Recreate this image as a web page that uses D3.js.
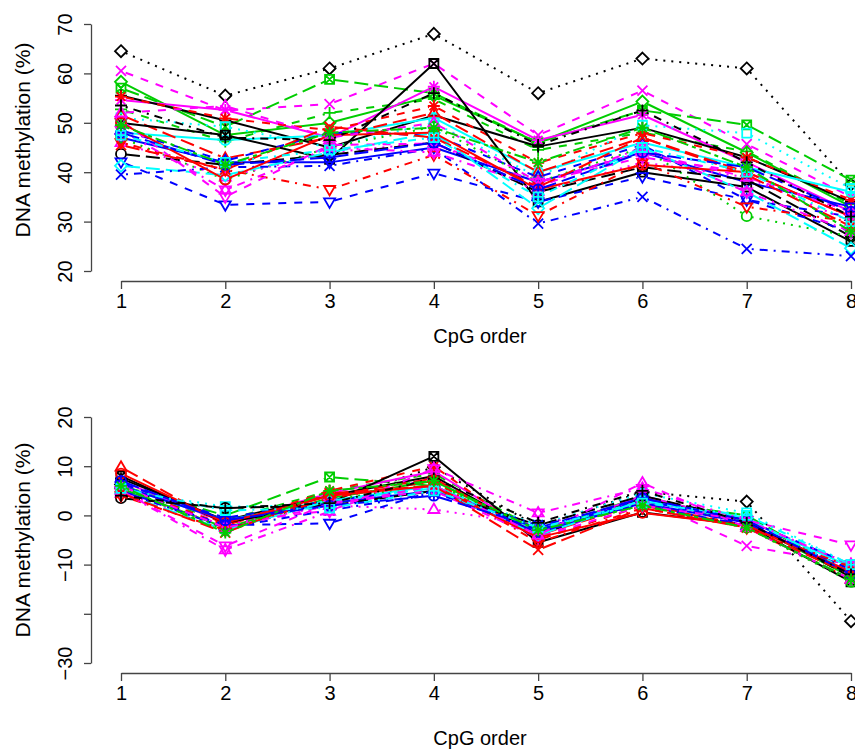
<!DOCTYPE html>
<html lang="en">
<head>
<meta charset="UTF-8">
<title>DNA methylation by CpG order</title>
<script src="https://d3js.org/d3.v7.min.js"></script>
<style>
  body { margin: 0; background: #fff; }
  svg { display: block; font-family: "Liberation Sans", Arial, sans-serif; }
</style>
</head>
<body>
<svg width="855" height="749"></svg>
<script>
// x categories and axis ticks
const cpgOrder = [1, 2, 3, 4, 5, 6, 7, 8];
const topTicks = [20, 30, 40, 50, 60, 70];
const bottomTicks = [20, 10, 0, -10, -20, -30];
const bottomTickLabels = ["20", "10", "0", "\u221210", "", "\u221230"]; // R drops -20 (overlap)

// methylation (%) per sample
const methylation = [
  [64.5, 55.5, 61.0, 68.0, 56.0, 63.0, 61.0, 37.5],
  [60.5, 52.5, 53.8, 62.0, 47.5, 56.5, 45.7, 35.0],
  [57.0, 49.2, 58.8, 56.0, 46.0, 52.5, 49.6, 38.4],
  [58.3, 47.5, 50.0, 55.5, 46.0, 54.3, 44.0, 33.0],
  [52.7, 46.2, 52.0, 54.8, 44.5, 48.0, 44.2, 33.5],
  [54.6, 52.6, 47.0, 57.3, 46.5, 51.6, 42.0, 32.0],
  [55.5, 50.5, 45.0, 51.5, 45.2, 49.0, 43.0, 34.0],
  [55.3, 50.9, 48.5, 53.4, 41.9, 47.9, 43.0, 34.4],
  [51.0, 49.2, 45.0, 50.0, 39.0, 49.5, 47.9, 36.7],
  [48.0, 46.5, 47.5, 51.0, 40.0, 46.0, 41.0, 36.0],
  [51.6, 42.8, 47.0, 52.0, 40.0, 47.0, 40.0, 31.0],
  [50.0, 47.5, 42.6, 62.0, 34.0, 40.0, 37.0, 26.0],
  [48.5, 42.3, 48.0, 47.5, 39.0, 45.5, 34.4, 31.0],
  [47.0, 42.0, 42.0, 45.0, 38.0, 44.0, 38.0, 33.0],
  [47.0, 38.5, 45.0, 49.2, 38.0, 45.0, 31.1, 27.0],
  [46.0, 39.0, 44.0, 46.0, 36.0, 42.0, 39.0, 30.0],
  [43.7, 41.5, 43.5, 46.0, 36.0, 41.0, 38.5, 27.0],
  [42.1, 33.4, 34.0, 39.8, 34.0, 39.1, 34.4, 28.0],
  [41.3, 39.4, 44.0, 48.0, 32.7, 45.0, 36.0, 24.6],
  [39.5, 41.0, 41.3, 44.8, 29.6, 35.0, 24.5, 23.0],
  [46.0, 40.5, 36.5, 43.5, 31.2, 42.0, 33.0, 30.0],
  [50.5, 35.0, 45.5, 45.8, 38.0, 43.0, 40.0, 31.0],
  [48.5, 36.4, 45.0, 44.0, 37.0, 45.0, 36.0, 28.0],
  [50.0, 38.5, 47.5, 48.0, 36.5, 41.5, 40.0, 31.0],
  [52.0, 53.4, 47.0, 50.0, 38.0, 44.0, 39.0, 32.0],
  [45.5, 40.5, 49.2, 47.0, 37.0, 47.0, 39.5, 29.0],
  [48.0, 41.5, 43.0, 46.0, 36.5, 44.0, 41.0, 32.0],
  [47.5, 42.0, 44.5, 47.0, 35.0, 45.0, 40.0, 30.0],
  [53.5, 47.0, 46.5, 56.0, 45.5, 52.5, 42.0, 31.0],
  [49.5, 41.5, 48.0, 49.0, 42.0, 49.0, 41.0, 28.0]
];

// lower panel values
const methylationLow = [
  [6.3, -2.8, 2.8, 9.8, -2.3, 4.8, 2.8, -21.5],
  [6.5, -1.5, 1.0, 8.0, -4.5, 3.5, -6.2, -10.0],
  [6.0, 0.0, 7.8, 6.0, -3.0, 3.0, 0.0, -12.0],
  [5.5, -2.5, 3.5, 7.0, -3.5, 4.0, -1.5, -12.5],
  [5.0, -1.0, 5.0, 8.5, -3.0, 3.0, -0.5, -12.0],
  [7.0, -1.5, 4.5, 9.0, -4.0, 4.0, -1.5, -11.5],
  [7.5, -1.0, 4.0, 8.0, -4.0, 3.5, -1.5, -12.0],
  [6.0, -2.0, 5.0, 10.0, -5.0, 2.0, -2.0, -11.0],
  [5.0, 1.8, 2.0, 6.0, -2.0, 4.5, 0.5, -10.0],
  [6.0, -1.0, 3.0, 6.0, -3.0, 3.0, -1.0, -10.5],
  [9.8, -2.0, 4.0, 7.5, -4.0, 2.5, -2.5, -13.0],
  [8.0, -1.5, 2.5, 12.0, -5.5, 0.6, -2.0, -13.5],
  [6.5, -0.5, 3.0, 5.5, -3.0, 3.5, -2.0, -11.0],
  [6.0, -1.0, 2.5, 5.0, -3.5, 2.5, -1.5, -12.0],
  [5.5, -3.0, 3.0, 6.5, -3.0, 2.0, -2.5, -13.5],
  [4.5, -2.0, 2.0, 1.2, -2.0, 3.0, -1.0, -10.0],
  [3.5, 1.5, 2.0, 5.0, -2.0, 4.0, -1.0, -12.5],
  [5.0, -2.0, -1.6, 5.0, -3.0, 3.0, -1.0, -10.0],
  [4.5, -3.0, 3.0, 5.5, -4.0, 3.0, -0.5, -11.5],
  [5.0, -2.5, 1.0, 4.5, -2.0, 2.0, -2.0, -11.0],
  [4.0, -3.0, 3.5, 7.0, -5.5, 1.5, -2.5, -10.5],
  [5.0, -6.2, 2.5, 5.0, -4.5, 2.0, -1.0, -6.0],
  [5.0, -7.0, 0.8, 9.5, 0.5, 5.5, -1.0, -10.0],
  [8.5, -1.5, 4.0, 6.0, -4.5, 0.5, -2.0, -11.5],
  [6.0, -2.5, 2.0, 6.0, -4.0, 6.6, -2.5, -13.0],
  [4.5, -3.5, 4.5, 6.0, -7.0, 1.5, -2.5, -12.0],
  [7.0, -1.0, 2.0, 4.0, -2.5, 3.5, -1.0, -12.0],
  [5.5, 1.0, 1.5, 5.0, -2.5, 2.5, 0.0, -10.0],
  [4.0, 1.5, 2.5, 7.5, -1.5, 5.0, -1.5, -12.0],
  [6.0, -3.5, 5.0, 7.0, -3.0, 2.0, -2.5, -13.0]
];

// per-series styling (R matplot-like)
const seriesCol = ["k","m","g","g","g","m","k","r","c","c","r","k","b","b","g",
                   "m","k","b","c","b","r","m","m","r","m","r","b","c","k","g"];
const seriesLty = ["dotted","dashed","longdash","solid","dashed","solid","solid","dashed","dotted","solid",
                   "longdash","solid","dashed","solid","dotted","dotted","longdash","dashed","longdash","dotdash",
                   "dotdash","dashed","dotdash","solid","dashed","longdash","longdash","dotdash","dotdash","twodash"];
const seriesPch = ["diamond","cross","squareCross","diamond","plus","asterisk","plus","asterisk","square","circlePlus",
                   "triangle","squareCross","triangle","triangleDown","circle","triangle","circle","triangleDown","diamond","cross",
                   "triangleDown","triangleDown","star","circle","triangle","cross","circlePlus","squarePlus","plus","asterisk"];

const colors = { k: "#000000", r: "#FF0000", g: "#00CD00", b: "#0000FF", c: "#00FFFF", m: "#FF00FF" };
const dashes = { solid: null, dashed: "8,8", dotted: "2,6", dotdash: "2,6,8,6", longdash: "14,6", twodash: "4,4,12,4" };

const svg = d3.select("svg");
const axisColor = "#444";

const panels = [
  { data: methylation, domain: [20, 70], yRange: [271, 24], xAxisY: 281, ticks: topTicks,
    tickText: d => String(d), titleY: 140, xTitleY: 343 },
  { data: methylationLow, domain: [-30, 20], yRange: [663, 417], xAxisY: 673, ticks: bottomTicks,
    tickText: (d, i) => bottomTickLabels[i], titleY: 540, xTitleY: 745 }
];

const x = d3.scaleLinear().domain([1, 8]).range([121, 851]);
const yAxisX = 91;

// marker shapes (pch-ish)
function marker(g, shape, color) {
  const s = 5;
  const p = g.append("path")
    .attr("fill", "none").attr("stroke", color).attr("stroke-width", 1.8);
  let d = "";
  const tri = (up) => {
    const h = up ? -1 : 1;
    return `M0,${h * 6}L${5.5},${-h * 3.5}L${-5.5},${-h * 3.5}Z`;
  };
  switch (shape) {
    case "circle": d = `M${s},0A${s},${s} 0 1,1 ${-s},0A${s},${s} 0 1,1 ${s},0Z`; break;
    case "triangle": d = tri(true); break;
    case "triangleDown": d = tri(false); break;
    case "plus": d = `M-6,0H6M0,-6V6`; break;
    case "cross": d = `M-5,-5L5,5M-5,5L5,-5`; break;
    case "diamond": d = `M0,-6L6,0L0,6L-6,0Z`; break;
    case "square": d = `M-4.5,-4.5H4.5V4.5H-4.5Z`; break;
    case "squareCross": d = `M-4.5,-4.5H4.5V4.5H-4.5ZM-4.5,-4.5L4.5,4.5M-4.5,4.5L4.5,-4.5`; break;
    case "squarePlus": d = `M-4.5,-4.5H4.5V4.5H-4.5ZM-4.5,0H4.5M0,-4.5V4.5`; break;
    case "asterisk": d = `M-6,0H6M0,-6V6M-4.3,-4.3L4.3,4.3M-4.3,4.3L4.3,-4.3`; break;
    case "circlePlus": d = `M${s},0A${s},${s} 0 1,1 ${-s},0A${s},${s} 0 1,1 ${s},0ZM-5,0H5M0,-5V5`; break;
    case "star": d = tri(true) + tri(false); break;
  }
  p.attr("d", d);
}

panels.forEach(pan => {
  const y = d3.scaleLinear().domain(pan.domain).range(pan.yRange);
  const g = svg.append("g");

  // y axis, labels rotated like R
  const ya = g.append("g").attr("transform", `translate(${yAxisX},0)`)
    .call(d3.axisLeft(y).tickValues(pan.ticks).tickSize(7).tickSizeOuter(0).tickFormat(pan.tickText));
  ya.select(".domain").attr("stroke", axisColor).attr("stroke-width", 1.3);
  ya.selectAll(".tick line").attr("stroke", axisColor).attr("stroke-width", 1.3);
  ya.selectAll(".tick text")
    .attr("x", null).attr("dy", null).attr("fill", "#000")
    .attr("text-anchor", "middle").attr("font-size", 20)
    .attr("transform", "translate(-19,0) rotate(-90)");

  // x axis
  const xa = g.append("g").attr("transform", `translate(0,${pan.xAxisY})`)
    .call(d3.axisBottom(x).tickValues(cpgOrder).tickSize(8).tickSizeOuter(0).tickFormat(d3.format("d")));
  xa.select(".domain").attr("stroke", axisColor).attr("stroke-width", 1.3);
  xa.selectAll(".tick line").attr("stroke", axisColor).attr("stroke-width", 1.3);
  xa.selectAll(".tick text").attr("y", 27).attr("dy", null).attr("fill", "#000").attr("font-size", 20);

  g.append("text").attr("transform", `translate(30,${pan.titleY}) rotate(-90)`)
    .attr("text-anchor", "middle").attr("font-size", 21).text("DNA methylation (%)");
  g.append("text").attr("x", 480).attr("y", pan.xTitleY)
    .attr("text-anchor", "middle").attr("font-size", 20).text("CpG order");

  // series: type = "b" (segments with gaps at the points)
  const gap = 5;
  pan.data.forEach((vals, i) => {
    const col = colors[seriesCol[i]];
    const pts = vals.map((v, j) => [x(cpgOrder[j]), y(v)]);
    let d = "";
    for (let j = 0; j < pts.length - 1; j++) {
      const [x0, y0] = pts[j], [x1, y1] = pts[j + 1];
      const len = Math.hypot(x1 - x0, y1 - y0);
      if (len <= 2 * gap) continue;
      const ux = (x1 - x0) / len, uy = (y1 - y0) / len;
      d += `M${x0 + ux * gap},${y0 + uy * gap}L${x1 - ux * gap},${y1 - uy * gap}`;
    }
    const sg = g.append("g");
    sg.append("path").attr("d", d).attr("fill", "none")
      .attr("stroke", col).attr("stroke-width", 2)
      .attr("stroke-dasharray", dashes[seriesLty[i]]);
    pts.forEach(p => {
      const mg = sg.append("g").attr("transform", `translate(${p[0]},${p[1]})`);
      marker(mg, seriesPch[i], col);
    });
  });
});
</script>
</body>
</html>
